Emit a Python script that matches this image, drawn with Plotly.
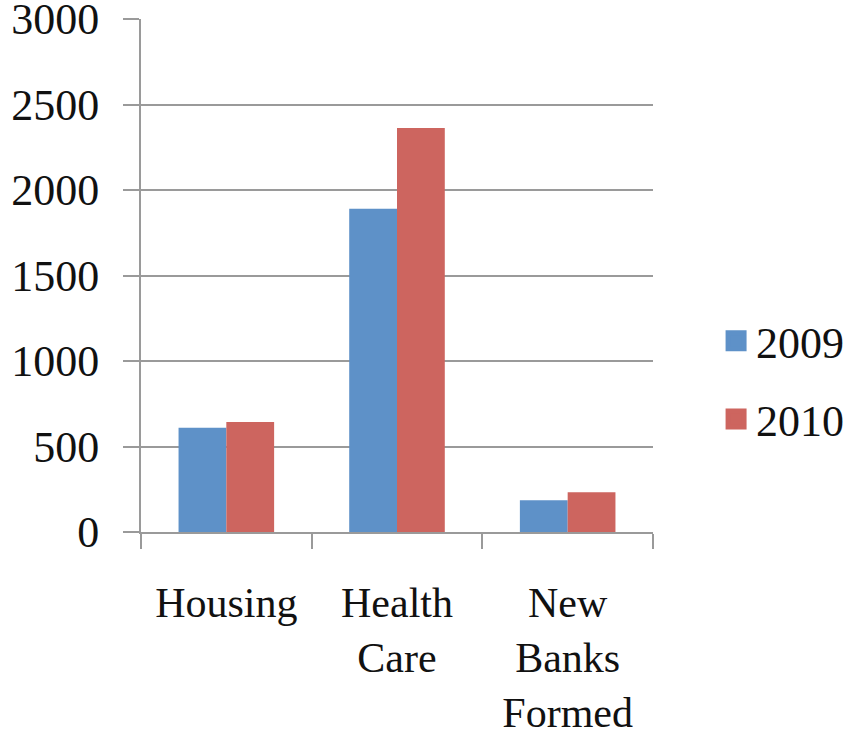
import plotly.graph_objects as go

categories = ["Housing", "Health<br>Care", "New<br>Banks<br>Formed"]
series_names = ["2009", "2010"]
values_2009 = [610, 1890, 186]
values_2010 = [643, 2363, 233]
y_ticks = [0, 500, 1000, 1500, 2000, 2500, 3000]

blue = "#5E91C8"
red = "#CD655F"
grid = "#9A9A9A"
font_family = "Liberation Serif"
txt = "#111111"

fig = go.Figure()
fig.add_trace(go.Bar(x=categories, y=values_2009, name=series_names[0],
                     marker=dict(color=blue, line=dict(width=0)), showlegend=False))
fig.add_trace(go.Bar(x=categories, y=values_2010, name=series_names[1],
                     marker=dict(color=red, line=dict(width=0)), showlegend=False))
# legend proxies (larger square swatches)
for name, col, grp in [(series_names[0], blue, "a"), (series_names[1], red, "b")]:
    fig.add_trace(go.Scatter(x=[None], y=[None], mode="markers", name=name,
                             legendgroup=grp,
                             marker=dict(symbol="square", size=16, color=col,
                                         line=dict(width=5, color=col))))

fig.update_layout(
    width=860, height=734,
    margin=dict(l=141, r=206, t=19, b=202),
    paper_bgcolor="white", plot_bgcolor="white",
    barmode="group", bargap=0.44, bargroupgap=0,
    font=dict(family=font_family, size=44, color=txt),
    showlegend=True,
    legend=dict(x=1.121, xanchor="left", y=0.296, yanchor="middle",
                traceorder="grouped", tracegroupgap=18, itemsizing="trace",
                font=dict(family=font_family, size=44, color=txt),
                bgcolor="rgba(0,0,0,0)"),
)
fig.update_xaxes(
    automargin=False,
    showline=True, linecolor=grid, linewidth=2,
    ticks="outside", tickson="boundaries", ticklen=15, tickwidth=2, tickcolor=grid,
    showgrid=False, ticklabelstandoff=33,
    tickfont=dict(family=font_family, size=42, color=txt),
)
fig.update_yaxes(
    automargin=False,
    range=[0, 3000], tickvals=y_ticks, ticklabeloverflow="allow",
    showline=True, linecolor=grid, linewidth=2,
    showgrid=True, gridcolor=grid, gridwidth=2,
    ticks="outside", ticklen=16, tickwidth=2, tickcolor=grid,
    zeroline=False, ticklabelstandoff=15,
    tickfont=dict(family=font_family, size=44, color=txt),
)

fig.write_html("out.html", config={"displayModeBar": False},
               post_script="document.body.style.margin='0';document.body.style.overflow='hidden';")
